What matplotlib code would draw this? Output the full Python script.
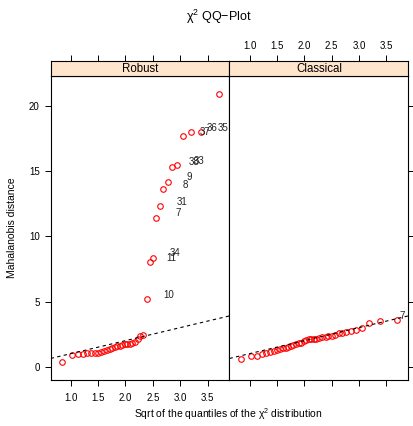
import matplotlib
matplotlib.use("Agg")
import matplotlib.pyplot as plt
import numpy as np

plt.rcParams["font.family"] = ["Liberation Sans", "DejaVu Sans"]
plt.rcParams["mathtext.fontset"] = "custom"
plt.rcParams["mathtext.rm"] = "Liberation Sans"
plt.rcParams["mathtext.it"] = "Liberation Sans"
plt.rcParams["mathtext.default"] = "regular"

# sqrt of chi^2 quantiles (shared by both panels)
quantiles = [0.835, 1.03, 1.14, 1.22, 1.30, 1.37, 1.44, 1.50, 1.56, 1.61,
             1.66, 1.71, 1.76, 1.80, 1.85, 1.90, 1.94, 1.99, 2.03, 2.08,
             2.12, 2.17, 2.22, 2.27, 2.32, 2.39, 2.44, 2.50, 2.56, 2.63,
             2.69, 2.77, 2.85, 2.94, 3.05, 3.19, 3.38, 3.70]

robust_dist = [0.36, 0.88, 0.98, 1.00, 1.02, 1.03, 1.05, 1.08, 1.12, 1.18,
               1.25, 1.35, 1.42, 1.50, 1.56, 1.62, 1.67, 1.71, 1.74, 1.77,
               1.82, 1.92, 2.12, 2.32, 2.40, 5.16, 8.00, 8.35, 11.45, 12.30,
               13.60, 14.20, 15.35, 15.45, 17.70, 17.98, 18.00, 20.90]

classical_dist = [0.57, 0.84, 0.84, 0.97, 1.03, 1.12, 1.20, 1.27, 1.33, 1.40,
                  1.45, 1.52, 1.58, 1.65, 1.72, 1.80, 1.85, 1.95, 2.08, 2.12,
                  2.13, 2.14, 2.16, 2.20, 2.26, 2.30, 2.34, 2.38, 2.45, 2.55,
                  2.61, 2.67, 2.75, 2.80, 2.96, 3.33, 3.51, 3.58]

# labels of the largest distances (ascending order)
robust_labels = ["10", "11", "34", "7", "31", "8", "9", "38", "33", "37", "36", "35", "32"]
classical_labels = ["7", "38"]

line_intercept = 0.0
line_slope = 1.0

x_ticks = [1.0, 1.5, 2.0, 2.5, 3.0, 3.5]
y_ticks = [0, 5, 10, 15, 20]

W, H = 414, 426
fig = plt.figure(figsize=(W / 100, H / 100), dpi=100)

panel_w = 178.8 / W
panel_b = (H - 380) / H
panel_h = 304 / H
strip_h = 15 / H
lefts = [50.7 / W, 229.5 / W]
xlim = (0.634, 3.90)
label_dx = 0.40  # label shift to the right of its point, in data units

panels = [
    ("Robust", robust_dist, robust_labels),
    ("Classical", classical_dist, classical_labels),
]

tick_kw = dict(direction="out", length=4.3, width=0.7, labelsize=7, colors="black")

for i, (name, dist, labels) in enumerate(panels):
    ax = fig.add_axes([lefts[i], panel_b, panel_w, panel_h])
    strip = fig.add_axes([lefts[i], panel_b + panel_h, panel_w, strip_h], sharex=ax)

    ax.plot(quantiles, dist, linestyle="none", marker="o", markersize=4,
            markerfacecolor="none", markeredgecolor="red", markeredgewidth=0.8)
    ax.axline((0, line_intercept), slope=line_slope, color="black",
              linestyle=(0, (3, 3)), linewidth=0.8)

    n_lab = len(labels)
    for lab, xq, yd in zip(labels, quantiles[-n_lab:], dist[-n_lab:]):
        if xq + label_dx > xlim[1]:
            continue  # falls outside the panel, clipped like the original
        ax.text(xq + label_dx, yd + 0.35, lab, ha="center", va="center",
                fontsize=7, color="#222222", clip_on=True)

    ax.set_xlim(*xlim)
    ax.set_ylim(-1.02, 22.31)
    ax.set_xticks(x_ticks)
    ax.set_yticks(y_ticks)
    ax.set_xticklabels([f"{t:.1f}" for t in x_ticks])
    for sp in ax.spines.values():
        sp.set_linewidth(0.8)

    ax.tick_params(axis="x", which="both", bottom=True, top=False,
                   labelbottom=(i == 0), pad=5, **tick_kw)
    if i == 0:
        ax.tick_params(axis="y", left=True, right=False, labelleft=True,
                       pad=3.6, **tick_kw)
    else:
        ax.tick_params(axis="y", left=False, right=True, labelleft=False,
                       labelright=False, **tick_kw)

    strip.set_facecolor("#ffe5cc")
    strip.set_yticks([])
    strip.xaxis.tick_top()
    strip.tick_params(axis="x", top=True, bottom=False, labeltop=(i == 1),
                      labelbottom=False, pad=3.2, **tick_kw)
    for sp in strip.spines.values():
        sp.set_linewidth(0.8)
    strip.text(0.5, 0.45, name, transform=strip.transAxes, ha="center",
               va="center", fontsize=8.3)

fig.text(219 / W, 1 - 17 / H, "χ$^2$ QQ\u2212Plot", ha="center", va="center",
         fontsize=9)
fig.text(228.5 / W, 1 - 414 / H, "Sqrt of the quantiles of the χ$^2$ distribution",
         ha="center", va="center", fontsize=7.5)
fig.text(12 / W, 1 - 228 / H, "Mahalanobis distance", ha="center", va="center",
         rotation=90, fontsize=7.5)

fig.savefig("out.png", dpi=100)
